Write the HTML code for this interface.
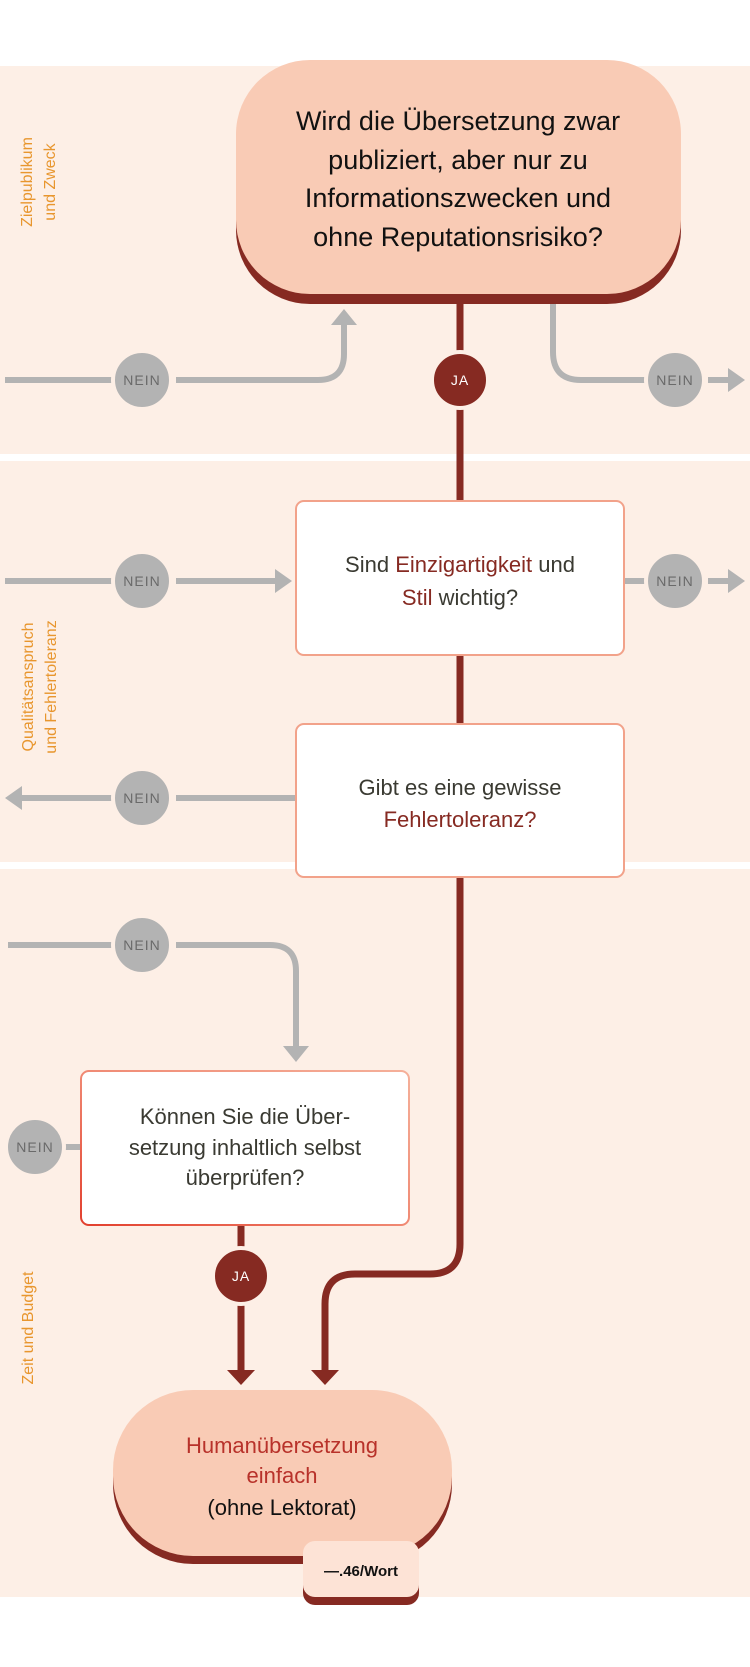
<!DOCTYPE html>
<html><head><meta charset="utf-8"><style>
html,body{margin:0;padding:0;background:#fff;}
svg{display:block;}
text{font-family:"Liberation Sans",sans-serif;}
</style></head><body>
<svg width="750" height="1667" viewBox="0 0 750 1667" xmlns="http://www.w3.org/2000/svg">
<defs>
<linearGradient id="bg4" x1="0" y1="1" x2="1" y2="0">
<stop offset="0" stop-color="#e2402e"/><stop offset="0.5" stop-color="#f08a74"/><stop offset="1" stop-color="#f5b09a"/>
</linearGradient>
</defs>
<rect x="0" y="66" width="750" height="388" fill="#fdefe6"/>
<rect x="0" y="461" width="750" height="401" fill="#fdefe6"/>
<rect x="0" y="869" width="750" height="728" fill="#fdefe6"/>

<g fill="#e8962e" font-size="16">
<text transform="translate(32,182) rotate(-90)" text-anchor="middle">Zielpublikum</text>
<text transform="translate(55,182) rotate(-90)" text-anchor="middle">und Zweck</text>
<text transform="translate(33,687) rotate(-90)" text-anchor="middle">Qualitätsanspruch</text>
<text transform="translate(56,687) rotate(-90)" text-anchor="middle">und Fehlertoleranz</text>
<text transform="translate(33,1328) rotate(-90)" text-anchor="middle">Zeit und Budget</text>
</g>

<g stroke="#b3b3b3" stroke-width="6" fill="none">
<line x1="5" y1="380" x2="114" y2="380"/>
<path d="M176 380 H318 Q344 380 344 354 V322"/>
<path d="M553 304 V352 Q553 380 581 380 H646"/>
<line x1="708" y1="380" x2="730" y2="380"/>
<line x1="5" y1="581" x2="114" y2="581"/>
<line x1="176" y1="581" x2="277" y2="581"/>
<line x1="625" y1="581" x2="646" y2="581"/>
<line x1="708" y1="581" x2="730" y2="581"/>
<line x1="20" y1="798" x2="114" y2="798"/>
<line x1="176" y1="798" x2="295" y2="798"/>
<line x1="8" y1="945" x2="114" y2="945"/>
<path d="M176 945 H270 Q296 945 296 971 V1047"/>
<line x1="62" y1="1147" x2="80" y2="1147"/>
</g>
<g fill="#b3b3b3">
<polygon points="331,325 357,325 344,309"/>
<polygon points="728,368 745,380 728,392"/>
<polygon points="275,569 292,581 275,593"/>
<polygon points="728,569 745,581 728,593"/>
<polygon points="22,786 5,798 22,810"/>
<polygon points="283,1046 309,1046 296,1062"/>
</g>

<g stroke="#862a22" stroke-width="7" fill="none">
<line x1="460" y1="300" x2="460" y2="500"/>
<line x1="460" y1="655" x2="460" y2="724"/>
<path d="M460 877 V1244 Q460 1274 430 1274 H355 Q325 1274 325 1304 V1372"/>
<line x1="241" y1="1225" x2="241" y2="1372"/>
</g>
<g fill="#862a22">
<polygon points="311,1370 339,1370 325,1385"/>
<polygon points="227,1370 255,1370 241,1385"/>
</g>

<g font-size="14" text-anchor="middle" letter-spacing="1">
<g fill="#b3b3b3" stroke="#fdefe6" stroke-width="4">
<circle cx="142" cy="380" r="29"/><circle cx="675" cy="380" r="29"/>
<circle cx="142" cy="581" r="29"/><circle cx="675" cy="581" r="29"/>
<circle cx="142" cy="798" r="29"/><circle cx="142" cy="945" r="29"/>
<circle cx="35" cy="1147" r="29"/>
</g>
<g fill="#6a6a6a">
<text x="142" y="385">NEIN</text><text x="675" y="385">NEIN</text>
<text x="142" y="586">NEIN</text><text x="675" y="586">NEIN</text>
<text x="142" y="803">NEIN</text><text x="142" y="950">NEIN</text>
<text x="35" y="1152">NEIN</text>
</g>
<g fill="#862a22" stroke="#fdefe6" stroke-width="4">
<circle cx="460" cy="380" r="28"/><circle cx="241" cy="1276" r="28"/>
</g>
<g fill="#fff"><text x="460" y="385">JA</text><text x="241" y="1281">JA</text></g>
</g>

<rect x="236" y="70" width="445" height="234" rx="74" fill="#862a22"/>
<rect x="236" y="60" width="445" height="234" rx="74" fill="#f9cbb5"/>
<g font-size="27" text-anchor="middle" fill="#111">
<text x="458" y="130">Wird die Übersetzung zwar</text>
<text x="458" y="169">publiziert, aber nur zu</text>
<text x="458" y="207">Informationszwecken und</text>
<text x="458" y="246">ohne Reputationsrisiko?</text>
</g>

<rect x="296" y="501" width="328" height="154" rx="8" fill="#fff" stroke="#f2a28a" stroke-width="2"/>
<rect x="296" y="724" width="328" height="153" rx="8" fill="#fff" stroke="#f2a28a" stroke-width="2"/>
<g font-size="22" text-anchor="middle" fill="#3a3a32">
<text x="460" y="572">Sind <tspan fill="#862a22">Einzigartigkeit</tspan> und</text>
<text x="460" y="605"><tspan fill="#862a22">Stil</tspan> wichtig?</text>
<text x="460" y="795">Gibt es eine gewisse</text>
<text x="460" y="827" fill="#862a22">Fehlertoleranz?</text>
</g>

<rect x="81" y="1071" width="328" height="154" rx="8" fill="#fff" stroke="url(#bg4)" stroke-width="2"/>
<g font-size="22" text-anchor="middle" fill="#3a3a32">
<text x="245" y="1124">Können Sie die Über-</text>
<text x="245" y="1155">setzung inhaltlich selbst</text>
<text x="245" y="1185">überprüfen?</text>
</g>

<rect x="113" y="1398" width="339" height="166" rx="80" fill="#862a22"/>
<rect x="113" y="1390" width="339" height="166" rx="80" fill="#f9cbb5"/>
<g font-size="22" text-anchor="middle">
<text x="282" y="1453" fill="#b8322a">Humanübersetzung</text>
<text x="282" y="1483" fill="#b8322a">einfach</text>
<text x="282" y="1515" fill="#111">(ohne Lektorat)</text>
</g>
<rect x="303" y="1549" width="116" height="56" rx="12" fill="#862a22"/>
<rect x="303" y="1541" width="116" height="56" rx="12" fill="#fde3d6"/>
<text x="361" y="1576" font-size="15" font-weight="bold" text-anchor="middle" fill="#111">—.46/Wort</text>
</svg>
</body></html>
